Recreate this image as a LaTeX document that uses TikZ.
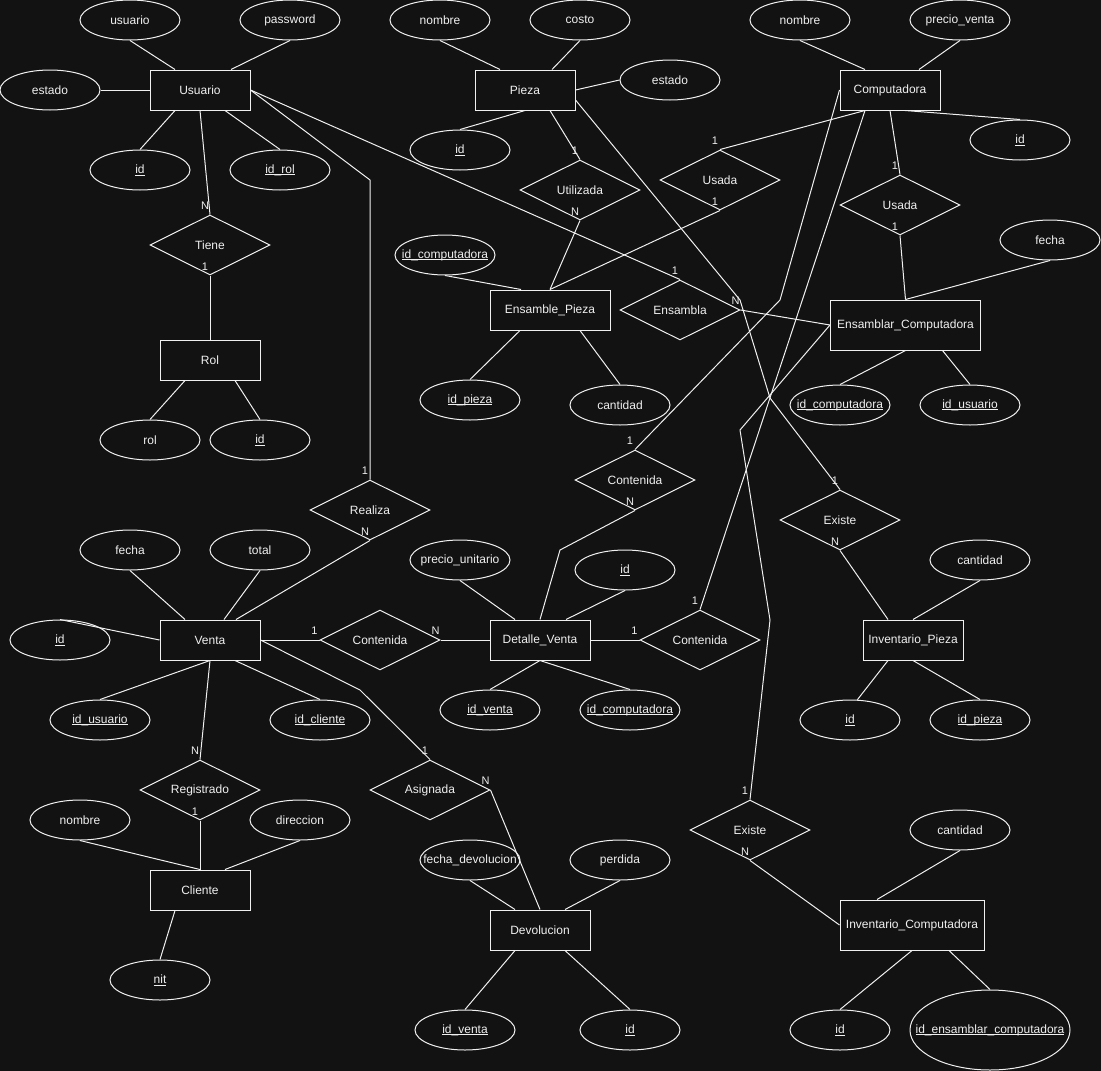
\documentclass[tikz,border=0pt]{standalone}
\usepackage{fontspec}
\setmainfont{Liberation Sans}
\usepackage{tikz}
\usetikzlibrary{shapes.geometric}
\definecolor{fondo}{HTML}{121212}
\definecolor{trazo}{HTML}{F0F0F0}
\newcommand{\grosor}{1pt}
\newsavebox{\cajaclave}
\newcommand{\attr}[1]{\makebox[0pt]{#1}}
\newcommand{\clave}[1]{\makebox[0pt]{\sbox{\cajaclave}{#1}\rlap{\rule[-2pt]{\wd\cajaclave}{0.7pt}}\usebox{\cajaclave}}}
\tikzset{
  entidad/.style={rectangle, draw, fill=fondo, minimum width=100pt, minimum height=40pt, inner sep=1pt},
  atributo/.style={ellipse, draw, fill=fondo, minimum width=100pt, minimum height=40pt, inner sep=0pt},
  relacion/.style={diamond, draw, fill=fondo, minimum width=120pt, minimum height=60pt, inner sep=0pt, aspect=2},
  card/.style={inner sep=0pt, font=\fontsize{11}{11}\selectfont, xshift=-5pt, yshift=9pt}
}

\begin{document}
\begin{tikzpicture}
    \begin{scope}[x=1pt,y=-1pt,color=trazo,line width=\grosor,font=\fontsize{12}{14}\selectfont]
        \path[use as bounding box, fill=fondo] (0,0) rectangle (1101,1071);
        \node[entidad] (usr) at (200,90) {Usuario};
        \node[entidad] (pza) at (525,90) {Pieza};
        \node[entidad] (cmp) at (890,90) {Computadora};
        \node[entidad] (rol) at (210,360) {Rol};
        \node[entidad, minimum width=120pt] (ensp) at (550,310) {Ensamble\_Pieza};
        \node[entidad, minimum width=150pt, minimum height=50pt] (ensc) at (905.5,325) {Ensamblar\_Computadora};
        \node[entidad] (vta) at (210,640) {Venta};
        \node[entidad] (dv) at (540,640) {Detalle\_Venta};
        \node[entidad] (invp) at (913,640) {Inventario\_Pieza};
        \node[entidad] (cli) at (200,890) {Cliente};
        \node[entidad] (dev) at (540,930) {Devolucion};
        \node[entidad, minimum width=144pt, minimum height=50pt] (invc) at (912,925) {Inventario\_Computadora};

        \node[atributo] (usrUsuario) at (130,20) {\attr{usuario}};
        \node[atributo] (usrPass) at (290,20) {\attr{password}};
        \node[atributo] (usrEstado) at (50,90) {\attr{estado}};
        \node[atributo] (usrId) at (140,170) {\clave{id}};
        \node[atributo] (usrIdRol) at (280,170) {\clave{id\_rol}};
        \node[atributo] (rolRol) at (150,440) {\attr{rol}};
        \node[atributo] (rolId) at (260,440) {\clave{id}};
        \node[atributo] (pzaNombre) at (440,20) {\attr{nombre}};
        \node[atributo] (pzaCosto) at (580,20) {\attr{costo}};
        \node[atributo] (pzaEstado) at (670,80) {\attr{estado}};
        \node[atributo] (pzaId) at (460,150) {\clave{id}};
        \node[atributo] (cmpNombre) at (800,20) {\attr{nombre}};
        \node[atributo] (cmpPrecio) at (960,20) {\attr{precio\_venta}};
        \node[atributo] (cmpId) at (1020,140) {\clave{id}};
        \node[atributo] (enscFecha) at (1050,240) {\attr{fecha}};
        \node[atributo] (enspIdComp) at (445,255) {\clave{id\_computadora}};
        \node[atributo] (enspIdPieza) at (470,400) {\clave{id\_pieza}};
        \node[atributo] (enspCant) at (620,405) {\attr{cantidad}};
        \node[atributo] (enscIdComp) at (840,405) {\clave{id\_computadora}};
        \node[atributo] (enscIdUsr) at (970,405) {\clave{id\_usuario}};
        \node[atributo] (vtaFecha) at (130,550) {\attr{fecha}};
        \node[atributo] (vtaTotal) at (260,550) {\attr{total}};
        \node[atributo] (vtaId) at (60,640) {\clave{id}};
        \node[atributo] (vtaIdUsr) at (100,720) {\clave{id\_usuario}};
        \node[atributo] (vtaIdCli) at (320,720) {\clave{id\_cliente}};
        \node[atributo] (dvPrecio) at (460,560) {\attr{precio\_unitario}};
        \node[atributo] (dvId) at (625,570) {\clave{id}};
        \node[atributo] (dvIdVenta) at (490,710) {\clave{id\_venta}};
        \node[atributo] (dvIdComp) at (630,710) {\clave{id\_computadora}};
        \node[atributo] (invpCant) at (980,560) {\attr{cantidad}};
        \node[atributo] (invpId) at (850,720) {\clave{id}};
        \node[atributo] (invpIdPieza) at (980,720) {\clave{id\_pieza}};
        \node[atributo] (cliNombre) at (80,820) {\attr{nombre}};
        \node[atributo] (cliDir) at (300,820) {\attr{direccion}};
        \node[atributo] (cliNit) at (160,980) {\clave{nit}};
        \node[atributo] (devFecha) at (470,860) {\attr{fecha\_devolucion}};
        \node[atributo] (devPerdida) at (620,860) {\attr{perdida}};
        \node[atributo] (devIdVenta) at (465,1030) {\clave{id\_venta}};
        \node[atributo] (devId) at (630,1030) {\clave{id}};
        \node[atributo] (invcCant) at (960,830) {\attr{cantidad}};
        \node[atributo] (invcId) at (840,1030) {\clave{id}};
        \node[atributo, minimum width=160pt, minimum height=80pt] (invcIdEns) at (990,1030) {\clave{id\_ensamblar\_computadora}};

        \node[relacion] (tiene) at (210,245) {Tiene};
        \node[relacion] (realiza) at (370,510) {Realiza};
        \node[relacion] (utilizada) at (580,190) {Utilizada};
        \node[relacion] (usadaP) at (720,180) {Usada};
        \node[relacion] (usadaC) at (900,205) {Usada};
        \node[relacion] (ensambla) at (680,310) {Ensambla};
        \node[relacion] (contC) at (635,480) {Contenida};
        \node[relacion] (existeP) at (840,520) {Existe};
        \node[relacion] (contV) at (380,640) {Contenida};
        \node[relacion] (contD) at (700,640) {Contenida};
        \node[relacion] (registrado) at (200,790) {Registrado};
        \node[relacion] (asignada) at (430,790) {Asignada};
        \node[relacion] (existeC) at (750,830) {Existe};

        \draw (usr.south) -- (tiene.north) node[card] {N};
        \draw (tiene.south) node[card] {1} -- (rol.north);
        \draw (usr.east) -- (370,180) -- (realiza.north) node[card] {1};
        \draw (realiza.south) node[card] {N} -- ([xshift=26pt]vta.north);
        \draw (usr.east) -- (ensambla.north) node[card] {1};
        \draw (ensambla.east) node[card] {N} -- (ensc.west);
        \draw ([xshift=25pt]pza.south) -- (utilizada.north) node[card] {1};
        \draw (utilizada.south) node[card] {N} -- (ensp.north);
        \draw ([xshift=-25pt]cmp.south) -- (usadaP.north) node[card] {1};
        \draw (usadaP.south) node[card] {1} -- (ensp.north);
        \draw (cmp.south) -- (usadaC.north) node[card] {1};
        \draw (usadaC.south) node[card] {1} -- (ensc.north);
        \draw ([yshift=-10pt]pza.east) -- (740,300) -- (770,398) -- (existeP.north) node[card] {1};
        \draw (existeP.south) node[card] {N} -- ([xshift=-25pt]invp.north);
        \draw (cmp.west) -- (780,300) -- (contC.north) node[card] {1};
        \draw (contC.south) node[card] {N} -- (560,550) -- (dv.north);
        \draw ([xshift=-25pt]cmp.south) -- (contD.north) node[card] {1};
        \draw (contD.west) node[card] {1} -- (dv.east);
        \draw (ensc.west) -- (740,430) -- (770,620) -- (existeC.north) node[card] {1};
        \draw (existeC.south) node[card] {N} -- (invc.west);
        \draw (vta.east) -- (contV.west) node[card] {1};
        \draw (contV.east) node[card] {N} -- (dv.west);
        \draw (vta.east) -- (360,690) -- (asignada.north) node[card] {1};
        \draw (asignada.east) node[card] {N} -- (dev.north);
        \draw (vta.south) -- (registrado.north) node[card] {N};
        \draw (registrado.south) node[card] {1} -- (cli.north);

        \draw (usrUsuario.south) -- ([xshift=-25pt]usr.north);
        \draw (usrPass.south) -- ([xshift=31pt]usr.north);
        \draw (usrEstado.east) -- (usr.west);
        \draw (usrId.north) -- ([xshift=-25pt]usr.south);
        \draw (usrIdRol.north) -- ([xshift=25pt]usr.south);
        \draw (rolRol.north) -- ([xshift=-25pt]rol.south);
        \draw (rolId.north) -- ([xshift=25pt]rol.south);
        \draw (pzaNombre.south) -- ([xshift=-25pt]pza.north);
        \draw (pzaCosto.south) -- ([xshift=27pt]pza.north);
        \draw (pzaEstado.west) -- (pza.east);
        \draw (pzaId.north) -- (pza.south);
        \draw (cmpNombre.south) -- ([xshift=-25pt]cmp.north);
        \draw (cmpPrecio.south) -- ([xshift=29pt]cmp.north);
        \draw (cmpId.north) -- ([xshift=15pt]cmp.south);
        \draw (enscFecha.south) -- (ensc.north);
        \draw (enscIdComp.north) -- (ensc.south);
        \draw (enscIdUsr.north) -- ([xshift=37pt]ensc.south);
        \draw (enspIdComp.south) -- ([xshift=-29pt]ensp.north);
        \draw (enspIdPieza.north) -- ([xshift=-30pt]ensp.south);
        \draw (enspCant.north) -- ([xshift=30pt]ensp.south);
        \draw (vtaFecha.south) -- ([xshift=-25pt]vta.north);
        \draw (vtaTotal.south) -- ([xshift=14pt]vta.north);
        \draw (vtaId.north) -- (vta.west);
        \draw (vtaIdUsr.north) -- (vta.south);
        \draw (vtaIdCli.north) -- ([xshift=25pt]vta.south);
        \draw (dvPrecio.south) -- ([xshift=-25pt]dv.north);
        \draw (dvId.south) -- ([xshift=26pt]dv.north);
        \draw (dvIdVenta.north) -- (dv.south);
        \draw (dvIdComp.north) -- (dv.south);
        \draw (invpCant.south) -- (invp.north);
        \draw (invpId.70) -- ([xshift=-25pt]invp.south);
        \draw (invpIdPieza.north) -- (invp.south);
        \draw (cliNombre.south) -- (cli.north);
        \draw (cliDir.south) -- ([xshift=25pt]cli.north);
        \draw (cliNit.north) -- ([xshift=-25pt]cli.south);
        \draw (devFecha.south) -- ([xshift=-25pt]dev.north);
        \draw (devPerdida.south) -- ([xshift=25pt]dev.north);
        \draw (devIdVenta.north) -- ([xshift=-25pt]dev.south);
        \draw (devId.north) -- ([xshift=25pt]dev.south);
        \draw (invcCant.south) -- ([xshift=-35pt]invc.north);
        \draw (invcId.north) -- (invc.south);
        \draw (invcIdEns.north) -- ([xshift=37pt]invc.south);
    \end{scope}
\end{tikzpicture}
\end{document}
